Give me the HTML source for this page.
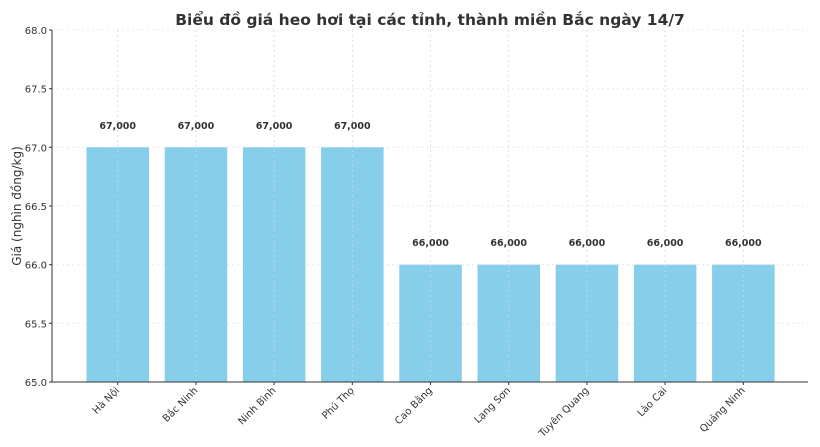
<!DOCTYPE html>
<html><head><meta charset="utf-8"><style>
body{margin:0;background:#fff}
svg{display:block;font-family:"DejaVu Sans","Liberation Sans",sans-serif}
</style></head><body>
<svg width="820" height="447" viewBox="0 0 820 447" xmlns="http://www.w3.org/2000/svg">
<rect width="820" height="447" fill="#fff"/>
<text x="430" y="25" text-anchor="middle" font-size="15.5" font-weight="bold" fill="#333">Biểu đồ giá heo hơi tại các tỉnh, thành miền Bắc ngày 14/7</text>
<g stroke="#e6e6e6" stroke-width="0.8" stroke-dasharray="2,3">
<line x1="52" x2="808" y1="30" y2="30"/><line x1="52" x2="808" y1="88.7" y2="88.7"/>
<line x1="52" x2="808" y1="147.3" y2="147.3"/><line x1="52" x2="808" y1="206" y2="206"/>
<line x1="52" x2="808" y1="264.7" y2="264.7"/><line x1="52" x2="808" y1="323.3" y2="323.3"/>
</g>
<g fill="#87ceeb">
<rect x="86.5" y="147.3" width="62.5" height="234.7"/>
<rect x="164.7" y="147.3" width="62.5" height="234.7"/>
<rect x="242.9" y="147.3" width="62.5" height="234.7"/>
<rect x="321.1" y="147.3" width="62.5" height="234.7"/>
<rect x="399.3" y="264.7" width="62.5" height="117.3"/>
<rect x="477.5" y="264.7" width="62.5" height="117.3"/>
<rect x="555.7" y="264.7" width="62.5" height="117.3"/>
<rect x="633.9" y="264.7" width="62.5" height="117.3"/>
<rect x="712.1" y="264.7" width="62.5" height="117.3"/>
</g>
<g stroke="#d6d6d6" stroke-width="0.8" stroke-dasharray="2,3">
<line x1="117.7" x2="117.7" y1="30" y2="382"/><line x1="195.9" x2="195.9" y1="30" y2="382"/>
<line x1="274.1" x2="274.1" y1="30" y2="382"/><line x1="352.3" x2="352.3" y1="30" y2="382"/>
<line x1="430.5" x2="430.5" y1="30" y2="382"/><line x1="508.7" x2="508.7" y1="30" y2="382"/>
<line x1="586.9" x2="586.9" y1="30" y2="382"/><line x1="665.1" x2="665.1" y1="30" y2="382"/>
<line x1="743.3" x2="743.3" y1="30" y2="382"/>
</g>
<g font-size="9.5" font-weight="bold" fill="#333" text-anchor="middle">
<text x="117.7" y="129">67,000</text><text x="195.9" y="129">67,000</text>
<text x="274.1" y="129">67,000</text><text x="352.3" y="129">67,000</text>
<text x="430.5" y="246">66,000</text><text x="508.7" y="246">66,000</text>
<text x="586.9" y="246">66,000</text><text x="665.1" y="246">66,000</text>
<text x="743.3" y="246">66,000</text>
</g>
<line x1="52" x2="52" y1="30" y2="382" stroke="#333" stroke-width="1"/>
<line x1="52" x2="808" y1="382" y2="382" stroke="#333" stroke-width="1"/>
<g font-size="10" fill="#333" text-anchor="end">
<text x="47" y="34">68.0</text><text x="47" y="92.7">67.5</text>
<text x="47" y="151.3">67.0</text><text x="47" y="210">66.5</text>
<text x="47" y="268.7">66.0</text><text x="47" y="327.3">65.5</text>
<text x="47" y="386">65.0</text>
</g>
<g stroke="#333" stroke-width="1">
<line x1="49" x2="52" y1="30" y2="30"/><line x1="49" x2="52" y1="88.7" y2="88.7"/>
<line x1="49" x2="52" y1="147.3" y2="147.3"/><line x1="49" x2="52" y1="206" y2="206"/>
<line x1="49" x2="52" y1="264.7" y2="264.7"/><line x1="49" x2="52" y1="323.3" y2="323.3"/>
<line x1="49" x2="52" y1="382" y2="382"/>
</g>
<text transform="translate(21,206) rotate(-90)" font-size="12" fill="#333" text-anchor="middle">Giá (nghìn đồng/kg)</text>
<g font-size="10" fill="#333" text-anchor="end">
<text transform="translate(120,391) rotate(-45)">Hà Nội</text>
<text transform="translate(198.2,391) rotate(-45)">Bắc Ninh</text>
<text transform="translate(276.4,391) rotate(-45)">Ninh Bình</text>
<text transform="translate(354.6,391) rotate(-45)">Phú Thọ</text>
<text transform="translate(432.8,391) rotate(-45)">Cao Bằng</text>
<text transform="translate(511,391) rotate(-45)">Lạng Sơn</text>
<text transform="translate(589.2,391) rotate(-45)">Tuyên Quang</text>
<text transform="translate(667.4,391) rotate(-45)">Lào Cai</text>
<text transform="translate(745.6,391) rotate(-45)">Quảng Ninh</text>
</g>
<g stroke="#333" stroke-width="1">
<line x1="117.7" x2="117.7" y1="382" y2="385"/><line x1="195.9" x2="195.9" y1="382" y2="385"/>
<line x1="274.1" x2="274.1" y1="382" y2="385"/><line x1="352.3" x2="352.3" y1="382" y2="385"/>
<line x1="430.5" x2="430.5" y1="382" y2="385"/><line x1="508.7" x2="508.7" y1="382" y2="385"/>
<line x1="586.9" x2="586.9" y1="382" y2="385"/><line x1="665.1" x2="665.1" y1="382" y2="385"/>
<line x1="743.3" x2="743.3" y1="382" y2="385"/>
</g>
</svg>
</body></html>
